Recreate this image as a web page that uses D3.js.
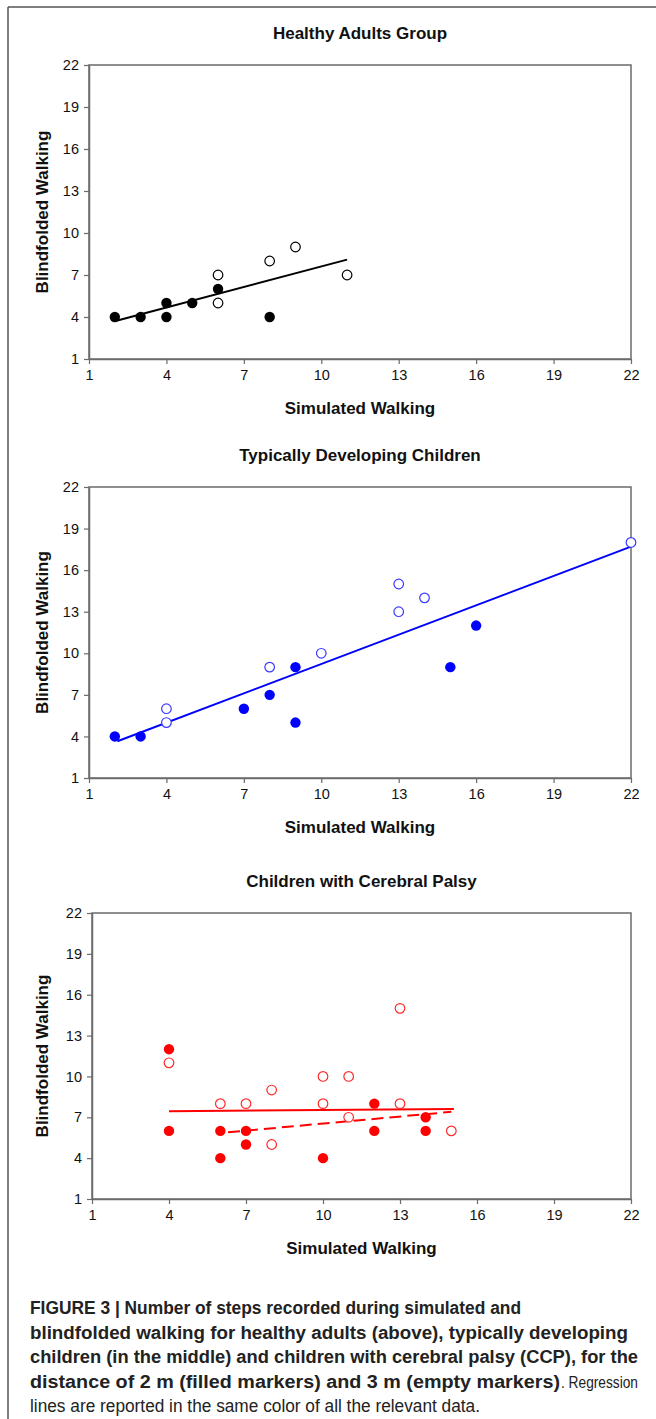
<!DOCTYPE html>
<html>
<head>
<meta charset="utf-8">
<script src="https://cdn.jsdelivr.net/npm/d3@7/dist/d3.min.js"></script>
<style>
  body { margin: 0; background: #fff; }
  svg { display: block; }
</style>
</head>
<body>
<script>
// tick values shared by every panel
var ticks = [1, 4, 7, 10, 13, 16, 19, 22];

// healthy adults (black)
var adultsFilled = [[2,4],[3,4],[4,5],[4,4],[5,5],[6,6],[8,4]];
var adultsEmpty = [[6,7],[6,5],[8,8],[9,9],[11,7]];
var adultsLine = [[2.1,3.75],[11,8.1]];

// typically developing children (blue)
var tdFilled = [[2,4],[3,4],[7,6],[8,7],[9,9],[9,5],[15,9],[16,12]];
var tdEmpty = [[4,6],[4,5],[8,9],[10,10],[13,15],[13,13],[14,14],[22,18]];
var tdLine = [[2.1,3.65],[22,17.7]];

// children with cerebral palsy (red)
var cpFilled = [[4,12],[4,6],[6,6],[6,4],[7,6],[7,5],[10,4],[12,8],[12,6],[14,7],[14,6]];
var cpEmpty = [[4,11],[6,8],[7,8],[8,9],[8,5],[10,10],[10,8],[11,10],[11,7],[13,8],[13,15],[15,6]];
var cpSolid = [[4,7.45],[15.1,7.6]];
var cpDashed = [[6.3,5.9],[15,7.4]];

var titles = ["Healthy Adults Group", "Typically Developing Children", "Children with Cerebral Palsy"];

var w = 656, h = 1419;
var font = "'Liberation Sans', Arial, sans-serif";
const svg = d3.select("body").append("svg").attr("width", w).attr("height", h);

// outer frame (top and left edges)
svg.append("line").attr("x1", 8).attr("x2", w).attr("y1", 7).attr("y2", 7)
  .attr("stroke", "#555").attr("stroke-width", 1.5);
svg.append("line").attr("x1", 8).attr("x2", 8).attr("y1", 7).attr("y2", h)
  .attr("stroke", "#555").attr("stroke-width", 1.5);

var panels = [
  {left: 89, right: 631, top: 65, bottom: 359, color: "#000", empty: "#000",
   filled: adultsFilled, open: adultsEmpty, lines: [{d: adultsLine}]},
  {left: 89, right: 631, top: 487, bottom: 778, color: "#0000ff", empty: "#3a3aff",
   filled: tdFilled, open: tdEmpty, lines: [{d: tdLine}]},
  {left: 92, right: 631, top: 913, bottom: 1199, color: "#ff0000", empty: "#ff2a2a",
   filled: cpFilled, open: cpEmpty, lines: [{d: cpSolid}, {d: cpDashed, dash: "12,6"}]}
];

panels.forEach(function(p, i) {
  var x = d3.scaleLinear().domain([1, 22]).range([p.left, p.right]);
  var y = d3.scaleLinear().domain([1, 22]).range([p.bottom, p.top]);
  var g = svg.append("g");

  // plot box
  g.append("rect").attr("x", p.left).attr("y", p.top)
    .attr("width", p.right - p.left).attr("height", p.bottom - p.top)
    .attr("fill", "none").attr("stroke", "#6b6b6b").attr("stroke-width", 1.5);

  var xAxis = g.append("g").attr("transform", "translate(0," + p.bottom + ")")
    .call(d3.axisBottom(x).tickValues(ticks).tickSize(5).tickSizeOuter(0).tickPadding(6));
  var yAxis = g.append("g").attr("transform", "translate(" + p.left + ",0)")
    .call(d3.axisLeft(y).tickValues(ticks).tickSize(5).tickSizeOuter(0).tickPadding(5));
  [xAxis, yAxis].forEach(function(a) {
    a.select(".domain").attr("stroke", "#6b6b6b").attr("stroke-width", 1.5);
    a.selectAll(".tick line").attr("stroke", "#6b6b6b").attr("stroke-width", 1.2);
    a.selectAll(".tick text").attr("fill", "#111")
      .style("font-family", font).style("font-size", "14.5px");
  });

  // titles
  g.append("text").attr("x", (p.left + p.right) / 2).attr("y", p.top - 26)
    .attr("text-anchor", "middle").style("font-family", font)
    .style("font-size", "17px").style("font-weight", "bold").attr("fill", "#111").text(titles[i]);
  g.append("text").attr("x", (p.left + p.right) / 2).attr("y", p.bottom + 55)
    .attr("text-anchor", "middle").style("font-family", font)
    .style("font-size", "17px").style("font-weight", "bold").attr("fill", "#111").text("Simulated Walking");
  g.append("text").attr("transform", "translate(48," + (p.top + p.bottom) / 2 + ") rotate(-90)")
    .attr("text-anchor", "middle").style("font-family", font)
    .style("font-size", "17px").style("font-weight", "bold").attr("fill", "#111").text("Blindfolded Walking");

  // regression lines
  var line = d3.line().x(function(d) { return x(d[0]); }).y(function(d) { return y(d[1]); });
  p.lines.forEach(function(l) {
    g.append("path").attr("d", line(l.d)).attr("fill", "none")
      .attr("stroke", p.color).attr("stroke-width", 2)
      .attr("stroke-dasharray", l.dash || null);
  });

  // markers
  g.selectAll(".open").data(p.open).enter().append("circle")
    .attr("cx", function(d) { return x(d[0]); }).attr("cy", function(d) { return y(d[1]); })
    .attr("r", 4.8).attr("fill", "#fff").attr("stroke", p.empty).attr("stroke-width", 1.2);
  g.selectAll(".filled").data(p.filled).enter().append("circle")
    .attr("cx", function(d) { return x(d[0]); }).attr("cy", function(d) { return y(d[1]); })
    .attr("r", 5.2).attr("fill", p.color);
});

// caption
var capFont = "'Liberation Sans Narrow', 'Arial Narrow', 'Liberation Sans', sans-serif";
var capLines = [
  {t: "FIGURE 3 | Number of steps recorded during simulated and", bold: true, len: 491},
  {t: "blindfolded walking for healthy adults (above), typically developing", bold: true, len: 598},
  {t: "children (in the middle) and children with cerebral palsy (CCP), for the", bold: true, len: 608},
  {t: "distance of 2 m (filled markers) and 3 m (empty markers)", bold: true, len: 530},
  {t: "lines are reported in the same color of all the relevant data.", bold: false, len: 450}
];
var capY = function(i) { return 1314 + i * 24.6; };
capLines.forEach(function(c, i) {
  svg.append("text").attr("x", 30).attr("y", capY(i))
    .style("font-family", capFont).style("font-size", "17.5px")
    .style("font-weight", c.bold ? "bold" : "normal").attr("fill", "#222")
    .attr("textLength", c.len).attr("lengthAdjust", "spacingAndGlyphs").text(c.t);
});
svg.append("text").attr("x", 561).attr("y", capY(3))
  .style("font-family", capFont).style("font-size", "16px").attr("fill", "#222")
  .attr("textLength", 77).attr("lengthAdjust", "spacingAndGlyphs").text(". Regression");
</script>
</body>
</html>
